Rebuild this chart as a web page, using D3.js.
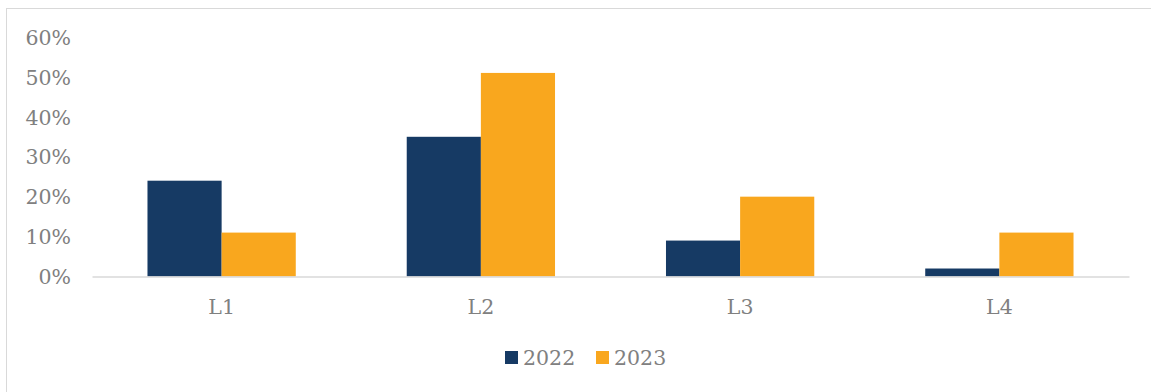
<!DOCTYPE html>
<html>
<head>
<meta charset="utf-8">
<script src="https://cdn.jsdelivr.net/npm/d3@7"></script>
<style>
  html, body { margin: 0; padding: 0; background: #fff; }
  svg { display: block; }
  text { font-family: Georgia, "DejaVu Serif", serif; fill: #808080; }
</style>
</head>
<body>
<svg id="chart" width="1151" height="392"></svg>
<script>
// Share of respondents by level, per year
const categories = ["L1", "L2", "L3", "L4"];
const seriesNames = ["2022", "2023"];
const values2022 = [0.24, 0.35, 0.09, 0.02];
const values2023 = [0.11, 0.51, 0.20, 0.11];
const yTicks = [0, 0.1, 0.2, 0.3, 0.4, 0.5, 0.6];
const colors = ["#163a64", "#f9a71e"];

const svg = d3.select("#chart");
const W = 1151, H = 392;
const fontSize = "20.5px";

// outer frame
svg.append("rect")
  .attr("x", 6.5).attr("y", 8.5)
  .attr("width", W).attr("height", H)
  .attr("fill", "none").attr("stroke", "#d9d9d9").attr("stroke-width", 1);

const plot = { left: 92, right: 1129, top: 37, bottom: 276.5 };

const x = d3.scaleBand()
  .domain(categories)
  .range([plot.left, plot.right])
  .paddingInner(0.428)
  .paddingOuter(0.214);

const xSub = d3.scaleBand()
  .domain(seriesNames)
  .range([0, x.bandwidth()]);

const y = d3.scaleLinear()
  .domain([0, 0.6])
  .range([plot.bottom, plot.top]);

const data = categories.map((c, i) => ({
  cat: c,
  vals: [
    { key: seriesNames[0], v: values2022[i], color: colors[0] },
    { key: seriesNames[1], v: values2023[i], color: colors[1] }
  ]
}));

// bars
const groups = svg.append("g").selectAll("g")
  .data(data).join("g")
  .attr("transform", d => `translate(${x(d.cat)},0)`);

groups.selectAll("rect")
  .data(d => d.vals).join("rect")
  .attr("x", d => xSub(d.key))
  .attr("y", d => y(d.v))
  .attr("width", xSub.bandwidth())
  .attr("height", d => y(0) - y(d.v))
  .attr("fill", d => d.color);

// y axis labels
const yAxis = d3.axisLeft(y)
  .tickValues(yTicks)
  .tickFormat(d3.format(".0%"))
  .tickSize(0)
  .tickPadding(0);

const yg = svg.append("g")
  .attr("transform", `translate(71,0)`)
  .call(yAxis);
yg.select(".domain").remove();
yg.selectAll("text")
  .attr("font-family", null)
  .style("font-size", fontSize)
  .attr("fill", "#808080")
  .attr("dy", "0.35em");

// x axis
const xAxis = d3.axisBottom(x).tickSize(0).tickPadding(0);
const xg = svg.append("g")
  .attr("transform", `translate(0,${plot.bottom})`)
  .call(xAxis);
xg.select(".domain")
  .attr("stroke", "#d9d9d9").attr("stroke-width", 1.5);
xg.selectAll("text")
  .attr("font-family", null)
  .style("font-size", fontSize)
  .attr("fill", "#808080")
  .attr("y", 0)
  .attr("dy", "37px");

// legend
const legend = svg.append("g");
const legendItems = [
  { name: seriesNames[0], color: colors[0], x: 505 },
  { name: seriesNames[1], color: colors[1], x: 596 }
];
const li = legend.selectAll("g").data(legendItems).join("g")
  .attr("transform", d => `translate(${d.x},351)`);
li.append("rect")
  .attr("width", 13).attr("height", 13)
  .attr("fill", d => d.color);
li.append("text")
  .attr("x", 18).attr("y", 14)
  .style("font-size", fontSize)
  .text(d => d.name);
</script>
</body>
</html>
